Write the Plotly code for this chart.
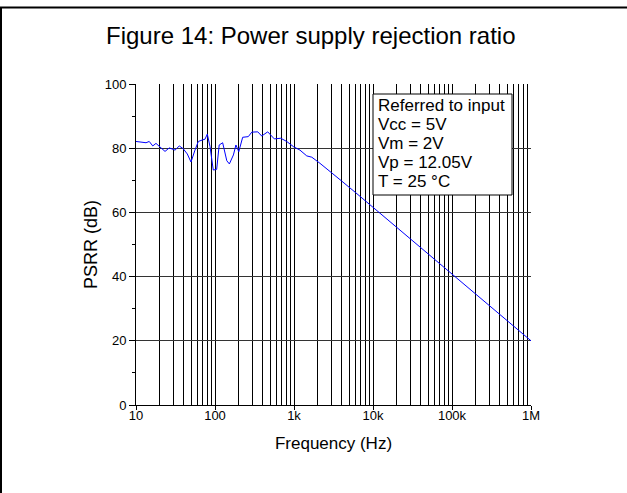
import plotly.graph_objects as go

# Frequency (Hz) and PSRR (dB)
freq_hz = [10, 11.8, 13.4, 14.7, 16.3, 17.9, 20.1, 23.3, 26.4, 31.2, 35.3, 39.7, 44.6,
           49.7, 55.8, 61.5, 69.9, 74.7, 79.9, 86.5, 95.1, 105, 113, 125, 141, 152,
           171, 184, 200, 224, 264, 292, 348, 390, 465, 563, 679, 809, 982, 1190,
           1450, 1680, 2130, 2800, 4000, 6000, 10000, 15000, 20000, 30000, 50000,
           70000, 100000, 150000, 200000, 300000, 500000, 700000, 1000000]
psrr_db = [82.1, 82.0, 81.7, 82.1, 80.7, 81.5, 80.3, 79.0, 80.1, 79.4, 80.7, 79.8, 78.2,
           75.7, 79.4, 82.1, 82.6, 82.8, 84.4, 80.5, 73.2, 73.4, 81.0, 81.7, 76.1, 75.1,
           77.9, 81.0, 78.9, 83.4, 83.6, 85.0, 85.1, 83.8, 85.1, 82.9, 83.1, 82.1, 80.5,
           79.4, 77.6, 77.2, 75.3, 73.0, 69.8, 66.2, 61.6, 58.0, 55.3, 51.8, 47.0,
           44.0, 40.8, 37.2, 34.5, 31.0, 26.3, 23.3, 20.0]

x_tickvals = [10, 100, 1000, 10000, 100000, 1000000]
x_ticktext = ["10", "100", "1k", "10k", "100k", "1M"]
y_tickvals = [0, 20, 40, 60, 80, 100]

title_text = "Figure 14: Power supply rejection ratio"
note_lines = ["Referred to input", "Vcc = 5V", "Vm = 2V", "Vp = 12.05V", "T = 25 °C"]

W, H = 627, 493
L, R, T, B = 136, 96, 84, 88
pw, ph = W - L - R, H - T - B


def px_x(px):
    return (px - L) / pw


def px_y(py):
    return (H - B - py) / ph


FONT = "Liberation Sans, Arial, sans-serif"

fig = go.Figure()
fig.add_trace(go.Scatter(x=freq_hz, y=psrr_db, mode="lines",
                         line=dict(color="#0000ff", width=1), showlegend=False,
                         hoverinfo="skip"))

fig.update_layout(
    width=W, height=H,
    margin=dict(l=L, r=R, t=T, b=B),
    paper_bgcolor="white", plot_bgcolor="white",
    font=dict(family=FONT, color="black", size=13),
    showlegend=False,
)

fig.update_xaxes(
    type="log", range=[1, 6],
    tickmode="array", tickvals=x_tickvals, ticktext=x_ticktext,
    ticks="outside", ticklen=4, tickcolor="black",
    ticklabelstandoff=-6,
    showline=True, linecolor="black", linewidth=1,
    showgrid=True, gridcolor="black", gridwidth=1,
    minor=dict(dtick="D1", showgrid=True, gridcolor="black", gridwidth=1,
               ticks=""),
    zeroline=False,
    tickfont=dict(size=13),
    title=dict(text="Frequency (Hz)", font=dict(size=17), standoff=15),
)
fig.update_yaxes(
    range=[0, 100],
    tickmode="array", tickvals=y_tickvals,
    ticks="outside", ticklen=6, tickcolor="black",
    minor=dict(dtick=10, ticks="outside", ticklen=3, tickcolor="black", showgrid=False),
    showline=True, linecolor="black", linewidth=1,
    showgrid=True, gridcolor="#333333", gridwidth=1,
    zeroline=False,
    tickfont=dict(size=13),
    title=dict(text="PSRR (dB)", font=dict(size=18), standoff=2),
)

# Page frame (top and left rules)
fig.add_shape(type="line", xref="paper", yref="paper",
              x0=px_x(0), x1=px_x(W), y0=px_y(7.5), y1=px_y(7.5),
              line=dict(color="black", width=2))
fig.add_shape(type="line", xref="paper", yref="paper",
              x0=px_x(1), x1=px_x(1), y0=px_y(7), y1=px_y(H),
              line=dict(color="black", width=2))

# Title
fig.add_annotation(xref="paper", yref="paper", x=px_x(311), y=px_y(35),
                   text=title_text, showarrow=False, xanchor="center", yanchor="middle",
                   font=dict(size=24))

# Note box
box_l, box_t, box_r, box_b = 373, 94, 512, 195
fig.add_shape(type="rect", xref="paper", yref="paper",
              x0=px_x(box_l), x1=px_x(box_r), y0=px_y(box_b), y1=px_y(box_t),
              line=dict(color="black", width=1), fillcolor="white", layer="above")
for i, line in enumerate(note_lines):
    fig.add_annotation(xref="paper", yref="paper", x=px_x(box_l + 3),
                       y=px_y(box_t + 11 + i * 19), text=line, showarrow=False,
                       xanchor="left", yanchor="middle", font=dict(size=17))

fig.write_html("out.html",
               config={"displayModeBar": False},
               post_script="document.body.style.margin='0';document.body.style.overflow='hidden';")
